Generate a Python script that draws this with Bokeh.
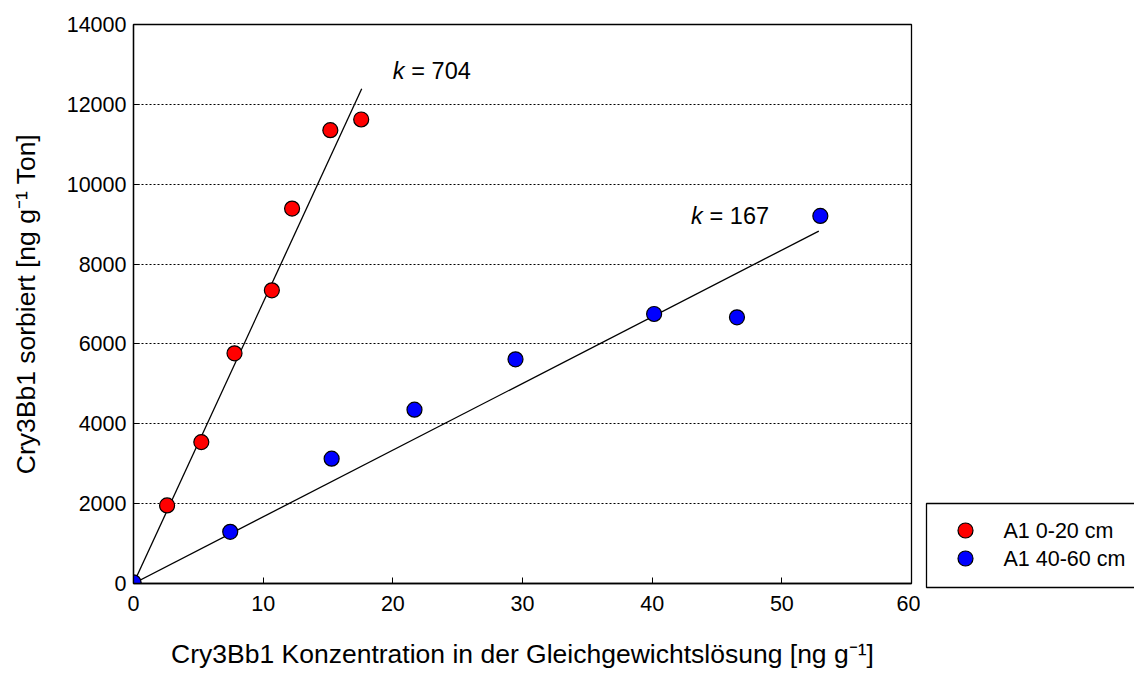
from bokeh.plotting import figure
from bokeh.layouts import row
from bokeh.models import Range1d, Label, FixedTicker
from bokeh.core.properties import value
from bokeh.embed import file_html
from bokeh.resources import INLINE

# --- data ---
red_x = [0.0, 2.59, 5.23, 7.79, 10.67, 12.23, 15.18, 17.56]
red_y = [0, 1955, 3541, 5764, 7343, 9390, 11353, 11621]
blue_x = [0.0, 7.46, 15.28, 21.67, 29.46, 40.15, 46.54, 52.97]
blue_y = [30, 1295, 3125, 4353, 5614, 6750, 6667, 9206]
k_red = 704
k_blue = 167
red_fit_xmax = 17.6
blue_fit_xmax = 52.85
series_names = ["A1 0-20 cm", "A1 40-60 cm"]
series_colors = ["#ff0000", "#0000ff"]
x_ticks = [0, 10, 20, 30, 40, 50, 60]
y_ticks = [0, 2000, 4000, 6000, 8000, 10000, 12000, 14000]

FONT = "Liberation Sans"
H = 671
W1 = 920

p = figure(width=W1, height=H, output_backend="svg", toolbar_location=None,
           x_range=Range1d(0, 60), y_range=Range1d(0, 14000),
           min_border_left=133, min_border_right=9, min_border_top=24,
           min_border_bottom=87)
p.frame_align = False

p.outline_line_color = "black"
p.outline_line_width = 1.3
p.xgrid.visible = False
p.ygrid.ticker = FixedTicker(ticks=[t for t in y_ticks if 0 < t < 14000])
p.ygrid.grid_line_color = "black"
p.ygrid.grid_line_dash = "2 2"
p.ygrid.grid_line_width = 1

for ax in (p.xaxis[0], p.yaxis[0]):
    ax.major_tick_in = 6
    ax.major_tick_out = 0
    ax.minor_tick_line_color = None
    ax.axis_line_color = "black"
    ax.axis_line_width = 1.3
    ax.major_tick_line_color = "black"
    ax.major_label_text_font = FONT
    ax.major_label_text_font_size = "21.5px"
    ax.major_label_text_color = "black"
    ax.axis_label_text_font = FONT
    ax.axis_label_text_font_style = "normal"
    ax.axis_label_text_font_size = "26.5px"
    ax.axis_label_text_color = "black"

p.xaxis[0].ticker = FixedTicker(ticks=x_ticks)
p.yaxis[0].ticker = FixedTicker(ticks=y_ticks)
p.xaxis[0].major_label_standoff = 12
p.yaxis[0].major_label_standoff = 7
p.xaxis[0].axis_label = "Cry3Bb1 Konzentration in der Gleichgewichtslösung [ng g\u207b\u00b9]"
p.yaxis[0].axis_label = "Cry3Bb1 sorbiert [ng g\u207b\u00b9 Ton]"
p.xaxis[0].axis_label_standoff = 25
p.yaxis[0].axis_label_standoff = 23

# fit lines
p.line([0, red_fit_xmax], [0, k_red * red_fit_xmax], line_color="black", line_width=1.3)
p.line([0, blue_fit_xmax], [0, k_blue * blue_fit_xmax], line_color="black", line_width=1.3)

# points
p.scatter(red_x, red_y, size=15, fill_color=series_colors[0], line_color="black", line_width=1.2)
p.scatter(blue_x, blue_y, size=15, fill_color=series_colors[1], line_color="black", line_width=1.2)

# annotations
for xx, yy, kk in [(20.0, 12830, k_red), (43.0, 9200, k_blue)]:
    p.add_layout(Label(x=xx, y=yy, text="k", text_font=FONT, text_font_style="italic",
                       text_font_size="23.5px", text_baseline="middle", text_color="black"))
    p.add_layout(Label(x=xx, y=yy, x_offset=18.5, text="= %d" % kk, text_font=FONT,
                       text_font_size="23.5px", text_baseline="middle", text_color="black"))

# legend panel (separate small figure, coordinates in pixels from its top-left)
W2 = 1134 - W1
lg = figure(width=W2, height=H, output_backend="svg", toolbar_location=None,
            x_range=Range1d(0, W2), y_range=Range1d(H, 0),
            min_border=0, x_axis_type=None, y_axis_type=None)
lg.frame_align = False
lg.outline_line_color = None
lg.xgrid.visible = False
lg.ygrid.visible = False
lg.quad(left=[6], right=[W2 + 20], top=[503], bottom=[587],
        fill_color="white", line_color="black", line_width=1.3)
entry_y = [530, 558]
lg.scatter([45, 45], entry_y, size=15, fill_color=series_colors,
           line_color="black", line_width=1.2)
lg.text([83, 83], entry_y, text=series_names, text_font=value(FONT),
        text_font_size="21.5px", text_baseline="middle", text_color="black")

layout = row(p, lg, spacing=0)
open("out.html", "w").write(file_html(layout, INLINE))
